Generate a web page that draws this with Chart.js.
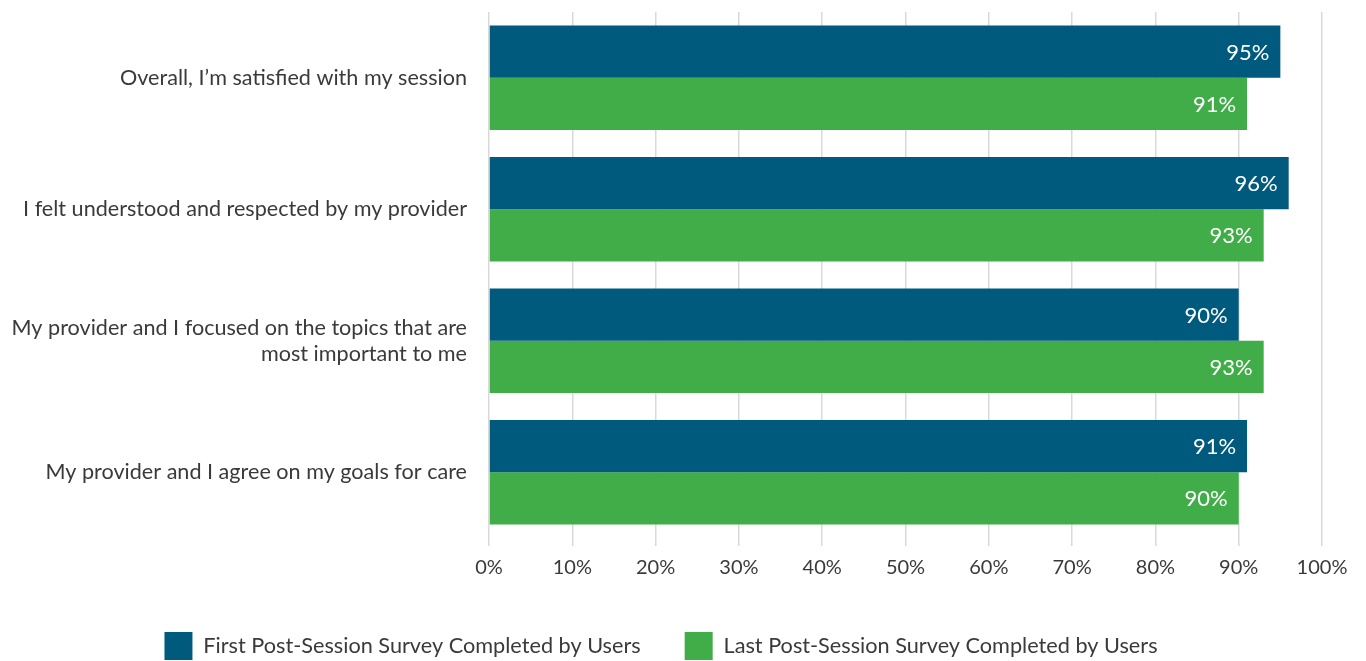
<!DOCTYPE html>
<html>
<head>
<meta charset="utf-8">
<script src="https://cdn.jsdelivr.net/npm/chart.js@4.4.0/dist/chart.umd.min.js"></script>
<style>
  html, body { margin: 0; padding: 0; background: #fff; }
  #wrap { width: 1366px; height: 661px; position: relative; }
</style>
</head>
<body>
<div id="wrap"><canvas id="survey"></canvas></div>
<script>
const categories = [
  "Overall, I\u2019m satisfied with my session",
  "I felt understood and respected by my provider",
  ["My provider and I focused on the topics that are", "most important to me"],
  "My provider and I agree on my goals for care"
];
const firstSurvey = [95, 96, 90, 91];
const lastSurvey = [91, 93, 93, 90];
const seriesNames = ["First Post-Session Survey Completed by Users", "Last Post-Session Survey Completed by Users"];

// white value labels inside the end of each bar
const barLabels = {
  id: "barLabels",
  afterDatasetsDraw(chart) {
    const c = chart.ctx;
    c.save();
    c.font = "22px Lato";
    c.fillStyle = "#ffffff";
    c.textAlign = "right";
    c.textBaseline = "middle";
    chart.data.datasets.forEach((ds, i) => {
      chart.getDatasetMeta(i).data.forEach((bar, j) => {
        c.fillText(ds.data[j] + "%", bar.x - 11, bar.y + 1);
      });
    });
    c.restore();
  }
};

const ctx = document.getElementById("survey");
new Chart(ctx, {
  type: "bar",
  data: {
    labels: categories,
    datasets: [
      {
        label: seriesNames[0],
        data: firstSurvey,
        backgroundColor: "#005A7E",
      },
      {
        label: seriesNames[1],
        data: lastSurvey,
        backgroundColor: "#41AD49",
      }
    ],
  },
  options: {
    indexAxis: "y",
    responsive: true,
    maintainAspectRatio: false,
    animation: false,
    layout: { padding: { top: 12, right: 44, left: 0, bottom: -9 } },
    datasets: {
      bar: { categoryPercentage: 0.795, barPercentage: 1.0 }
    },
    scales: {
      x: {
        min: 0,
        max: 100,
        ticks: {
          stepSize: 10,
          callback: (v) => v + "%",
          color: "#3a3a3a",
          font: { family: "Lato", size: 20 },
          padding: 10
        },
        grid: { color: "#d9d9d9", lineWidth: 1.5, tickLength: 8 },
        border: { display: false },
        afterFit: (s) => { s.height = 50; }
      },
      y: {
        ticks: {
          color: "#3a3a3a",
          font: { family: "Lato", size: 21.6 },
          padding: 22
        },
        grid: { display: false, drawTicks: false },
        border: { display: false },
        afterFit: (s) => { s.width = 489; s.paddingTop = 0; s.paddingBottom = 0; }
      }
    },
    plugins: {
      legend: {
        position: "bottom",
        labels: {
          boxWidth: 28,
          boxHeight: 28,
          padding: 44,
          color: "#3a3a3a",
          font: { family: "Lato", size: 21.7 }
        }
      },
      tooltip: { enabled: false }
    }
  },
  plugins: [barLabels]
});
</script>
</body>
</html>
